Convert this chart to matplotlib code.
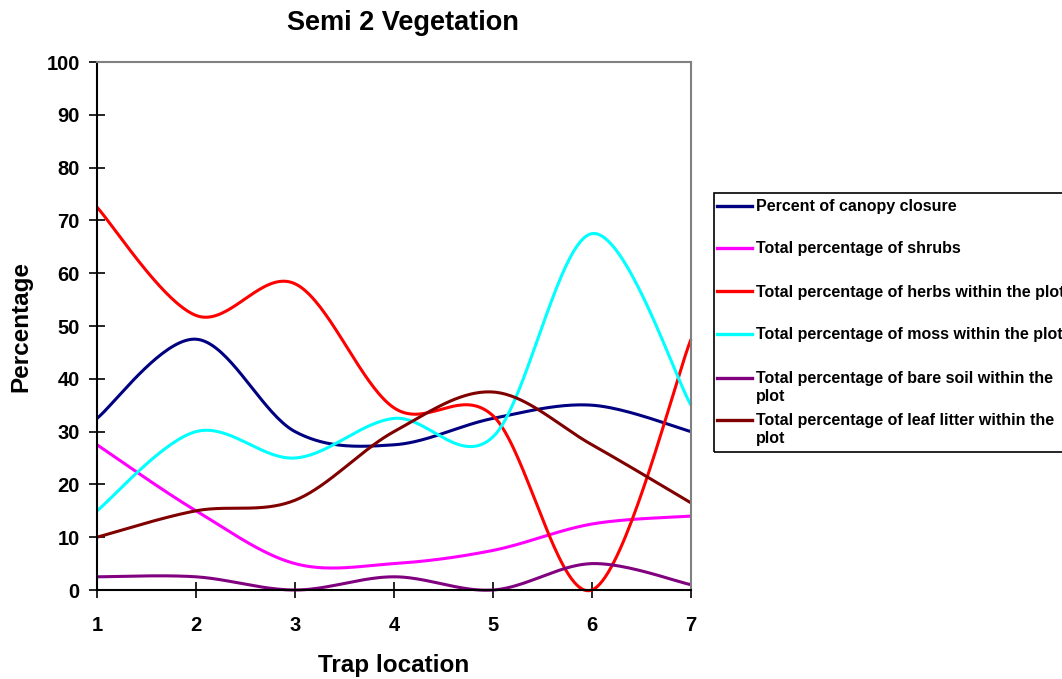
import numpy as np
import matplotlib
matplotlib.use("Agg")
import matplotlib.pyplot as plt
from matplotlib.lines import Line2D
from matplotlib.patches import Rectangle

plt.rcParams['font.family'] = ['Liberation Sans', 'DejaVu Sans']
plt.rcParams['font.weight'] = 'bold'

traps = [1, 2, 3, 4, 5, 6, 7]
canopy = [32.5, 47.5, 30, 27.5, 32.5, 35, 30]
shrubs = [27.5, 15, 5, 5, 7.5, 12.5, 14]
herbs = [72.5, 52, 58, 34.5, 33, 0, 47.5]
moss = [15, 30, 25, 32.5, 29, 67.5, 35]
bare_soil = [2.5, 2.5, 0, 2.5, 0, 5, 1]
leaf_litter = [10, 15, 17, 30, 37.5, 27.5, 16.5]

labels = [
    "Percent of canopy closure",
    "Total percentage of shrubs",
    "Total percentage of herbs within the plot",
    "Total percentage of moss within the plot",
    "Total percentage of bare soil within the\nplot",
    "Total percentage of leaf litter within the\nplot",
]
series = [canopy, shrubs, herbs, moss, bare_soil, leaf_litter]
colors = ["#000080", "#FF00FF", "#FF0000", "#00FFFF", "#800080", "#800000"]


def smooth(x, y, n=40):
    """Cubic Bezier smoothing through every point (Catmull-Rom tangents)."""
    x = np.asarray(x, float)
    y = np.asarray(y, float)
    px = np.concatenate([[x[0]], x, [x[-1]]])
    py = np.concatenate([[y[0]], y, [y[-1]]])
    xs, ys = [], []
    t = np.linspace(0, 1, n)
    for i in range(1, len(px) - 2):
        p0 = np.array([px[i], py[i]])
        p3 = np.array([px[i + 1], py[i + 1]])
        c1 = p0 + (np.array([px[i + 1], py[i + 1]]) - np.array([px[i - 1], py[i - 1]])) / 6
        c2 = p3 - (np.array([px[i + 2], py[i + 2]]) - np.array([px[i], py[i]])) / 6
        b = ((1 - t) ** 3)[:, None] * p0 + (3 * (1 - t) ** 2 * t)[:, None] * c1 \
            + (3 * (1 - t) * t ** 2)[:, None] * c2 + (t ** 3)[:, None] * p3
        xs.append(b[:, 0])
        ys.append(b[:, 1])
    return np.concatenate(xs), np.concatenate(ys)


W, H = 1062, 679
fig = plt.figure(figsize=(W / 100, H / 100), dpi=100)
ax = fig.add_axes([97 / W, 1 - 590 / H, (691 - 97) / W, (590 - 62) / H])

for vals, c in zip(series, colors):
    sx, sy = smooth(traps, vals)
    ax.plot(sx, sy, color=c, lw=2.2, solid_capstyle='butt', clip_on=False)

ax.set_xlim(1, 7)
ax.set_ylim(0, 100)
ax.set_xticks(traps)
ax.set_yticks(np.arange(0, 101, 10))
ax.tick_params(direction='inout', length=11, width=1.2, labelsize=14.5, colors='black')
ax.tick_params(axis='y', pad=7)
ax.tick_params(axis='x', pad=13)
for lab in ax.get_xticklabels() + ax.get_yticklabels():
    lab.set_fontweight('bold')
for s in ['left', 'bottom']:
    ax.spines[s].set_color('black')
    ax.spines[s].set_linewidth(1.5)
for s in ['top', 'right']:
    ax.spines[s].set_color('#808080')
    ax.spines[s].set_linewidth(1.5)

ax.set_xlabel("Trap location", fontsize=17.5, fontweight='bold', labelpad=14)
ax.set_ylabel("Percentage", fontsize=17.5, fontweight='bold', labelpad=10)
fig.text(403 / W, 1 - 23 / H, "Semi 2 Vegetation", fontsize=19.5, fontweight='bold',
         ha='center', va='center')

# Legend box, running off the right edge
fig.patches.append(Rectangle((714 / W, 1 - 452 / H), 400 / W, (452 - 193) / H,
                             transform=fig.transFigure, fill=False, edgecolor='black',
                             linewidth=1.2, clip_on=False))
handle_y = [206, 248, 291, 334, 378, 420]
text_y = [207, 249, 292, 334, 387, 430]
for hy, ty, lab, c in zip(handle_y, text_y, labels, colors):
    fig.add_artist(Line2D([717 / W, 752 / W], [1 - hy / H, 1 - hy / H],
                          color=c, lw=2.4, transform=fig.transFigure))
    fig.text(756 / W, 1 - ty / H, lab, fontsize=11.5, fontweight='bold',
             ha='left', va='center', linespacing=1.25)

fig.savefig("out.png", dpi=100)
